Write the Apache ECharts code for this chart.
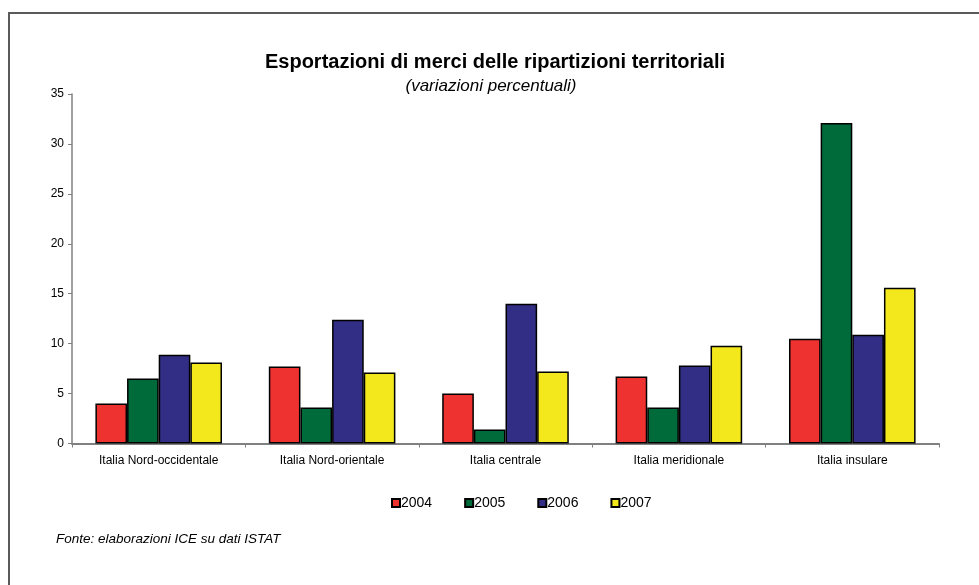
<!DOCTYPE html>
<html>
<head>
<meta charset="utf-8">
<script src="https://cdn.jsdelivr.net/npm/echarts@6/dist/echarts.min.js"></script>
<style>
html,body{margin:0;padding:0;background:#fff;}
#chart{width:979px;height:585px;}
</style>
</head>
<body>
<div id="chart"></div>
<script>
const categories = ['Italia Nord-occidentale', 'Italia Nord-orientale', 'Italia centrale', 'Italia meridionale', 'Italia insulare'];
const seriesNames = ['2004', '2005', '2006', '2007'];
const v2004 = [4.0, 7.7, 5.0, 6.7, 10.5];
const v2005 = [6.5, 3.6, 1.4, 3.6, 32.1];
const v2006 = [8.9, 12.4, 14.0, 7.8, 10.9];
const v2007 = [8.1, 7.1, 7.2, 9.8, 15.6];
const yTicks = [0, 5, 10, 15, 20, 25, 30, 35];

const colors = ['#EE3230', '#006B3A', '#332E85', '#F2E81C'];
const values = [v2004, v2005, v2006, v2007];
const font = 'Liberation Sans, Arial, sans-serif';

const chart = echarts.init(document.getElementById('chart'), null, {renderer: 'canvas'});
chart.setOption({
  animation: false,
  backgroundColor: '#ffffff',
  title: [
    {text: 'Esportazioni di merci delle ripartizioni territoriali', left: 490, top: 47, textAlign: 'center',
     textStyle: {fontFamily: font, fontSize: 20, fontWeight: 'bold', color: '#000'}},
    {text: '(variazioni percentuali)', left: 486, top: 73, textAlign: 'center',
     textStyle: {fontFamily: font, fontSize: 17, fontStyle: 'italic', fontWeight: 'normal', color: '#000'}},
    {text: 'Fonte: elaborazioni ICE su dati ISTAT', left: 51, top: 527,
     textStyle: {fontFamily: font, fontSize: 13.5, fontStyle: 'italic', fontWeight: 'normal', color: '#000'}}
  ],
  graphic: [
    {type: 'rect', shape: {x: 9, y: 13, width: 1000, height: 600}, silent: true,
     style: {fill: 'none', stroke: '#5a5a5a', lineWidth: 2}}
  ],
  legend: {
    data: seriesNames, left: 391, top: 496, padding: 0, itemWidth: 8, itemHeight: 8, itemGap: 32,
    icon: 'rect',
    textStyle: {fontFamily: font, fontSize: 14, color: '#000', padding: [0, 0, 0, -4]}
  },
  grid: {left: 72, right: 40, top: 94, bottom: 141.5, containLabel: false},
  xAxis: {
    type: 'category', data: categories,
    axisLine: {lineStyle: {color: '#808080', width: 2}},
    axisTick: {show: true, length: 4, lineStyle: {color: '#808080'}, alignWithLabel: false},
    axisLabel: {fontFamily: font, fontSize: 12, color: '#000', margin: 11}
  },
  yAxis: {
    type: 'value', min: yTicks[0], max: yTicks[yTicks.length - 1], interval: 5,
    axisLine: {show: true, lineStyle: {color: '#808080', width: 1.5}},
    axisTick: {show: true, length: 4, lineStyle: {color: '#808080'}},
    splitLine: {show: false},
    axisLabel: {fontFamily: font, fontSize: 12, color: '#000', margin: 8}
  },
  series: seriesNames.map((n, i) => ({
    name: n, type: 'bar', data: values[i],
    barGap: '0%', barCategoryGap: '27%',
    itemStyle: {color: colors[i], borderColor: '#000', borderWidth: 1.5}
  }))
});
</script>
</body>
</html>
